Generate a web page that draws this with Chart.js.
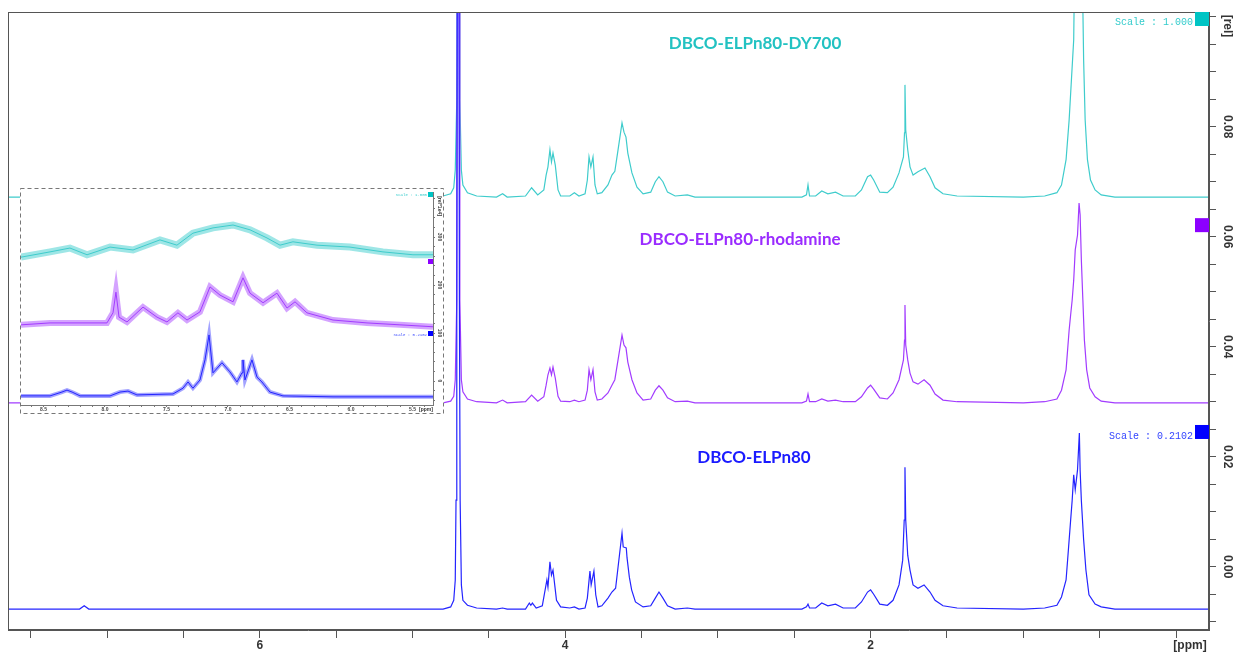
<!DOCTYPE html>
<html><head><meta charset="utf-8">
<script src="https://cdn.jsdelivr.net/npm/chart.js@4/dist/chart.umd.min.js"></script>
<style>
html,body{margin:0;padding:0;background:#fff;}
#wrap{position:relative;width:1241px;height:657px;overflow:hidden;background:#fff;}
#main{position:absolute;left:0;top:0;}
#inset{position:absolute;left:20px;top:188px;background:#fff;}
</style></head><body>
<div id="wrap"><canvas id="main" width="1241" height="657"></canvas><canvas id="inset" width="424" height="226"></canvas></div>
<script>
// ---------- main spectra (ppm, intensity [rel]) ----------
const cyanPpm = [7.65,4.90,4.80,4.75,4.73,4.72,4.71,4.705,4.695,4.69,4.68,4.67,4.64,4.58,4.45,4.41,4.38,4.26,4.22,4.18,4.14,4.125,4.113,4.10,4.09,4.08,4.065,4.047,4.03,3.97,3.94,3.91,3.87,3.855,3.844,3.832,3.818,3.805,3.79,3.76,3.72,3.694,3.675,3.654,3.628,3.615,3.602,3.59,3.563,3.53,3.49,3.44,3.41,3.386,3.36,3.33,3.28,3.20,3.15,2.45,2.42,2.41,2.40,2.36,2.32,2.28,2.23,2.18,2.10,2.06,2.02,2.00,1.98,1.94,1.89,1.853,1.814,1.785,1.778,1.775,1.770,1.757,1.742,1.722,1.69,1.644,1.611,1.578,1.526,1.434,1.00,0.86,0.78,0.75,0.72,0.70,0.685,0.67,0.655,0.625,0.605,0.595,0.58,0.56,0.53,0.49,0.40,-0.22];
const cyanVal = [0.0672,0.0672,0.0674,0.0678,0.0689,0.0721,0.0849,0.1300,0.1300,0.0849,0.0721,0.0694,0.0680,0.0674,0.0672,0.0678,0.0672,0.0674,0.0689,0.0676,0.0685,0.0712,0.0727,0.0758,0.0736,0.0752,0.0730,0.0685,0.0674,0.0674,0.0680,0.0674,0.0678,0.0703,0.0745,0.0727,0.0745,0.0694,0.0678,0.0680,0.0694,0.0712,0.0719,0.0758,0.0807,0.0790,0.0781,0.0752,0.0716,0.0690,0.0678,0.0681,0.0700,0.0709,0.0700,0.0681,0.0674,0.0676,0.0672,0.0672,0.0676,0.0694,0.0674,0.0674,0.0683,0.0678,0.0681,0.0674,0.0674,0.0685,0.0709,0.0712,0.0703,0.0681,0.0680,0.0690,0.0716,0.0745,0.0789,0.0876,0.0794,0.0758,0.0727,0.0712,0.0718,0.0725,0.0709,0.0689,0.0678,0.0674,0.0672,0.0674,0.0680,0.0694,0.0740,0.0812,0.0885,0.0958,0.1300,0.1300,0.0921,0.0812,0.0740,0.0703,0.0685,0.0676,0.0672,0.0672];

const purplePpm = [7.65,4.80,4.75,4.73,4.72,4.71,4.705,4.695,4.69,4.68,4.67,4.64,4.58,4.45,4.41,4.38,4.26,4.22,4.18,4.14,4.125,4.113,4.10,4.09,4.08,4.065,4.047,4.03,3.97,3.94,3.91,3.87,3.855,3.844,3.832,3.818,3.805,3.79,3.76,3.72,3.694,3.675,3.654,3.628,3.615,3.602,3.59,3.563,3.53,3.49,3.44,3.41,3.386,3.36,3.33,3.28,3.20,3.15,2.45,2.42,2.41,2.40,2.36,2.32,2.28,2.23,2.18,2.10,2.06,2.02,2.00,1.98,1.94,1.89,1.853,1.814,1.785,1.778,1.775,1.770,1.757,1.742,1.722,1.69,1.65,1.611,1.578,1.526,1.434,1.00,0.86,0.78,0.75,0.72,0.70,0.69,0.68,0.67,0.66,0.645,0.635,0.628,0.62,0.61,0.60,0.585,0.565,0.53,0.49,0.40,-0.22];
const purpleVal = [0.0298,0.0298,0.0301,0.0310,0.0340,0.0485,0.1300,0.1300,0.0485,0.0340,0.0318,0.0305,0.0300,0.0298,0.0303,0.0298,0.0300,0.0312,0.0301,0.0309,0.0330,0.0349,0.0361,0.0349,0.0363,0.0343,0.0310,0.0301,0.0300,0.0303,0.0300,0.0303,0.0321,0.0358,0.0340,0.0358,0.0318,0.0303,0.0305,0.0316,0.0330,0.0340,0.0376,0.0421,0.0403,0.0398,0.0372,0.0340,0.0316,0.0303,0.0305,0.0321,0.0329,0.0321,0.0307,0.0300,0.0301,0.0298,0.0298,0.0301,0.0314,0.0300,0.0300,0.0305,0.0301,0.0303,0.0300,0.0300,0.0309,0.0325,0.0330,0.0323,0.0307,0.0305,0.0316,0.0340,0.0376,0.0412,0.0476,0.0403,0.0376,0.0352,0.0336,0.0332,0.0340,0.0330,0.0314,0.0303,0.0300,0.0298,0.0300,0.0305,0.0321,0.0358,0.0430,0.0458,0.0485,0.0521,0.0576,0.0603,0.0661,0.0640,0.0558,0.0485,0.0412,0.0358,0.0325,0.0309,0.0301,0.0298,0.0298];

const bluePpm = [7.65,7.18,7.15,7.12,4.80,4.75,4.73,4.72,4.715,4.71,4.706,4.697,4.693,4.688,4.68,4.67,4.64,4.58,4.45,4.41,4.38,4.26,4.235,4.225,4.215,4.19,4.15,4.12,4.113,4.10,4.09,4.08,4.067,4.057,4.03,3.97,3.94,3.91,3.87,3.855,3.838,3.83,3.812,3.80,3.785,3.76,3.72,3.694,3.67,3.654,3.628,3.62,3.60,3.595,3.58,3.565,3.54,3.49,3.44,3.41,3.386,3.36,3.33,3.28,3.20,3.15,2.45,2.42,2.41,2.40,2.36,2.32,2.28,2.23,2.18,2.10,2.06,2.02,2.00,1.98,1.94,1.89,1.853,1.814,1.79,1.78,1.775,1.770,1.757,1.742,1.722,1.69,1.65,1.611,1.578,1.526,1.434,1.00,0.86,0.78,0.75,0.72,0.705,0.69,0.68,0.67,0.66,0.645,0.633,0.628,0.62,0.605,0.59,0.57,0.53,0.49,0.40,-0.22];
const blueVal = [-0.0077,-0.0077,-0.0071,-0.0077,-0.0077,-0.0073,-0.0061,-0.0024,0.0121,0.0485,0.1300,0.1300,0.0485,0.0121,-0.0033,-0.0061,-0.0070,-0.0075,-0.0077,-0.0075,-0.0077,-0.0077,-0.0066,-0.0070,-0.0066,-0.0075,-0.0071,-0.0024,-0.0037,0.0009,-0.0015,-0.0006,-0.0037,-0.0061,-0.0073,-0.0075,-0.0073,-0.0077,-0.0075,-0.0057,-0.0008,-0.0033,-0.0008,-0.0051,-0.0073,-0.0071,-0.0057,-0.0046,-0.0039,-0.0001,0.0061,0.0036,0.0034,0.0016,-0.0019,-0.0042,-0.0064,-0.0073,-0.0071,-0.0057,-0.0046,-0.0057,-0.0071,-0.0077,-0.0075,-0.0077,-0.0077,-0.0073,-0.0068,-0.0075,-0.0075,-0.0066,-0.0071,-0.0068,-0.0075,-0.0075,-0.0064,-0.0046,-0.0042,-0.0050,-0.0068,-0.0070,-0.0061,-0.0033,0.0012,0.0085,0.0181,0.0085,0.0021,-0.0006,-0.0033,-0.0039,-0.0033,-0.0046,-0.0061,-0.0071,-0.0075,-0.0077,-0.0075,-0.0070,-0.0055,-0.0024,0.0030,0.0085,0.0121,0.0167,0.0140,0.0176,0.0243,0.0176,0.0121,0.0049,-0.0006,-0.0051,-0.0068,-0.0073,-0.0077,-0.0077];

// ---------- inset (aromatic region, rel*1e4) ----------
const insetCyanPpm = [8.683,8.447,8.285,8.146,7.959,7.772,7.553,7.415,7.285,7.122,6.959,6.821,6.683,6.577,6.472,6.276,6.008,5.740,5.496,5.333];
const insetCyanVal = [258,269,277,263,279,273,294,283,308,319,325,315,298,283,290,283,279,269,263,263];
const insetPurplePpm = [8.683,8.447,8.179,7.984,7.935,7.911,7.886,7.821,7.691,7.577,7.496,7.407,7.333,7.228,7.146,7.065,6.959,6.878,6.821,6.715,6.602,6.520,6.455,6.358,6.146,5.870,5.602,5.333];
const insetPurpleVal = [117,121,121,121,142,185,133,123,154,133,123,142,127,144,196,179,165,215,183,163,183,152,165,142,127,121,117,113];
const insetBluePpm = [8.683,8.447,8.350,8.309,8.268,8.203,7.959,7.878,7.813,7.740,7.447,7.366,7.325,7.285,7.228,7.187,7.154,7.122,7.049,6.984,6.927,6.886,6.878,6.862,6.805,6.764,6.724,6.659,6.553,6.146,5.740,5.333];
const insetBlueVal = [-31,-31,-23,-19,-23,-31,-31,-23,-21,-29,-27,-15,-2,-15,2,44,96,17,38,19,-2,17,44,2,44,8,-2,-23,-31,-33,-33,-33];

// ---------- labels ----------
const seriesNames = ['DBCO-ELPn80-DY700', 'DBCO-ELPn80-rhodamine', 'DBCO-ELPn80'];
const scaleTexts = ['Scale : 1.000', 'Scale : 0.2102'];
const xMajorLabels = [2, 4, 6];
const yMajorLabels = [0, 0.02, 0.04, 0.06, 0.08];
const insetXLabels = [5.5, 6.0, 6.5, 7.0, 7.5, 8.0, 8.5];
const insetYLabels = [0, 100, 200, 300];

const C_CYAN = '#3fcccc', C_PURPLE = '#a23cff', C_BLUE = '#2424ff';
Chart.defaults.font.family = "'Liberation Sans', Arial, sans-serif";

const pts = (xs, ys) => xs.map((x, i) => ({x: x, y: ys[i]}));
const lineDs = (xs, ys, color, w) => ({data: pts(xs, ys), borderColor: color, borderWidth: w, pointRadius: 0, tension: 0, fill: false});

const mainDecor = {
  id: 'mainDecor',
  afterDraw(chart) {
    const {ctx, chartArea: a, scales: {x, y}} = chart;
    ctx.save();
    ctx.strokeStyle = '#555'; ctx.lineWidth = 1;
    ctx.strokeRect(a.left + 0.5, a.top + 0.5, a.right - a.left - 1, a.bottom - a.top - 1);
    // colored markers on right edge
    const sq = (val, col) => { const py = y.getPixelForValue(val); ctx.fillStyle = col; ctx.fillRect(a.right - 14, py - 7, 14, 14); };
    ctx.fillStyle = '#00c4c4'; ctx.fillRect(a.right - 14, a.top, 14, 14);
    sq(0.0621, '#8c00ff');
    sq(0.0245, '#0000ff');
    // series titles
    ctx.font = "bold 17px Lato, 'Open Sans', sans-serif";
    ctx.textAlign = 'center'; ctx.textBaseline = 'middle';
    ctx.fillStyle = '#22c2c2'; ctx.fillText(seriesNames[0], x.getPixelForValue(2.757), y.getPixelForValue(0.0952));
    ctx.fillStyle = '#9a2cff'; ctx.fillText(seriesNames[1], x.getPixelForValue(2.855), y.getPixelForValue(0.0594));
    ctx.fillStyle = '#1a1aff'; ctx.fillText(seriesNames[2], x.getPixelForValue(2.764), y.getPixelForValue(0.0198));
    // scale texts
    ctx.font = "10px 'Liberation Mono', 'DejaVu Sans Mono', monospace";
    ctx.textAlign = 'right';
    ctx.fillStyle = '#33cccc'; ctx.fillText(scaleTexts[0], a.right - 16, a.top + 10);
    ctx.fillStyle = '#3344ff'; ctx.fillText(scaleTexts[1], a.right - 16, y.getPixelForValue(0.0245) + 4);
    // axis unit labels
    ctx.fillStyle = '#333';
    ctx.font = "bold 12px 'Liberation Sans', Arial, sans-serif";
    ctx.textAlign = 'center';
    ctx.fillText('[ppm]', a.right - 19, a.bottom + 16);
    ctx.translate(a.right + 18, a.top + 14);
    ctx.rotate(Math.PI / 2);
    ctx.fillText('[rel]', 0, 0);
    ctx.restore();
  }
};

new Chart(document.getElementById('main'), {
  type: 'line',
  data: {datasets: [
    lineDs(bluePpm, blueVal, C_BLUE, 1.2),
    lineDs(purplePpm, purpleVal, C_PURPLE, 1.2),
    lineDs(cyanPpm, cyanVal, C_CYAN, 1.2)
  ]},
  options: {
    animation: false, responsive: false, events: [],
    layout: {padding: {left: 8, top: 12, right: 0, bottom: 0}},
    plugins: {legend: {display: false}, tooltip: {enabled: false}},
    scales: {
      x: {type: 'linear', reverse: true, min: -0.216, max: 7.649,
        ticks: {stepSize: 0.5, includeBounds: false, autoSkip: false, maxRotation: 0, padding: 0,
          color: '#333', font: {size: 12, weight: 'bold'},
          callback: v => xMajorLabels.includes(Math.round(v * 10) / 10) ? String(v) : ''},
        grid: {drawOnChartArea: false, tickLength: 8, color: '#555'},
        border: {color: '#555'},
        afterFit: s => { s.height = 27; }},
      y: {type: 'linear', position: 'right', min: -0.0115, max: 0.10085,
        ticks: {stepSize: 0.005, includeBounds: false, autoSkip: false, minRotation: -90, maxRotation: -90,
          crossAlign: 'center', padding: 0, color: '#333', font: {size: 12, weight: 'bold'},
          callback: v => { const r = Math.round(v * 1000) / 1000; return yMajorLabels.includes(r) ? r.toFixed(2) : ''; }},
        grid: {drawOnChartArea: false, tickLength: 7, color: '#555'},
        border: {color: '#555'},
        afterFit: s => { s.width = 32; }}
    }
  },
  plugins: [mainDecor]
});

const insetDecor = {
  id: 'insetDecor',
  beforeDraw(chart) {
    const {ctx, width, height} = chart;
    ctx.save(); ctx.fillStyle = '#fff'; ctx.fillRect(0, 0, width, height); ctx.restore();
  },
  afterDraw(chart) {
    const {ctx, chartArea: a, scales: {y}, width, height} = chart;
    ctx.save();
    ctx.strokeStyle = '#777'; ctx.lineWidth = 1; ctx.setLineDash([4, 3]);
    ctx.strokeRect(0.5, 0.5, width - 1, height - 1);
    ctx.setLineDash([]);
    ctx.fillStyle = '#00c4c4'; ctx.fillRect(a.right - 5, a.top, 5, 5);
    ctx.fillStyle = '#8c00ff'; ctx.fillRect(a.right - 5, y.getPixelForValue(250) - 2, 5, 5);
    ctx.fillStyle = '#0000ff'; ctx.fillRect(a.right - 5, y.getPixelForValue(100) - 2, 5, 5);
    ctx.font = "4px 'Liberation Mono', monospace"; ctx.textAlign = 'right'; ctx.textBaseline = 'middle';
    ctx.fillStyle = '#33cccc'; ctx.fillText(scaleTexts[0], a.right - 6, a.top + 3);
    ctx.fillStyle = '#3344ff'; ctx.fillText(scaleTexts[1], a.right - 6, y.getPixelForValue(100) + 2);
    ctx.fillStyle = '#333'; ctx.font = "bold 5px 'Liberation Sans', Arial";
    ctx.textAlign = 'center';
    ctx.fillText('[ppm]', a.right - 7, a.bottom + 5);
    ctx.translate(a.right + 6, a.top + 14); ctx.rotate(Math.PI / 2);
    ctx.fillText('[rel*1e4]', 0, 0);
    ctx.restore();
  }
};

new Chart(document.getElementById('inset'), {
  type: 'line',
  data: {datasets: [
    lineDs(insetBluePpm, insetBlueVal, C_BLUE, 1),
    lineDs(insetBluePpm, insetBlueVal, 'rgba(50,50,255,0.45)', 4),
    lineDs(insetPurplePpm, insetPurpleVal, C_PURPLE, 1),
    lineDs(insetPurplePpm, insetPurpleVal, 'rgba(160,50,255,0.45)', 6),
    lineDs(insetCyanPpm, insetCyanVal, C_CYAN, 1),
    lineDs(insetCyanPpm, insetCyanVal, 'rgba(40,200,200,0.45)', 7)
  ]},
  options: {
    animation: false, responsive: false, events: [],
    layout: {padding: {left: 1, top: 4, right: 0, bottom: 0}},
    plugins: {legend: {display: false}, tooltip: {enabled: false}},
    scales: {
      x: {type: 'linear', reverse: true, min: 5.333, max: 8.683,
        ticks: {stepSize: 0.1, includeBounds: false, autoSkip: false, maxRotation: 0, padding: 0,
          color: '#444', font: {size: 5, weight: 'bold'},
          callback: v => { const r = Math.round(v * 10) / 10; return insetXLabels.includes(r) ? r.toFixed(1) : ''; }},
        grid: {drawOnChartArea: false, tickLength: 2, color: '#777'},
        border: {color: '#777'},
        afterFit: s => { s.height = 9; }},
      y: {type: 'linear', position: 'right', min: -50, max: 393.75,
        ticks: {stepSize: 20, includeBounds: false, autoSkip: false, minRotation: -90, maxRotation: -90,
          crossAlign: 'center', padding: 0, color: '#444', font: {size: 5, weight: 'bold'},
          callback: v => insetYLabels.includes(Math.round(v)) ? String(Math.round(v)) : ''},
        grid: {drawOnChartArea: false, tickLength: 2, color: '#777'},
        border: {color: '#777'},
        afterFit: s => { s.width = 11; }}
    }
  },
  plugins: [insetDecor]
});
</script></body></html>
